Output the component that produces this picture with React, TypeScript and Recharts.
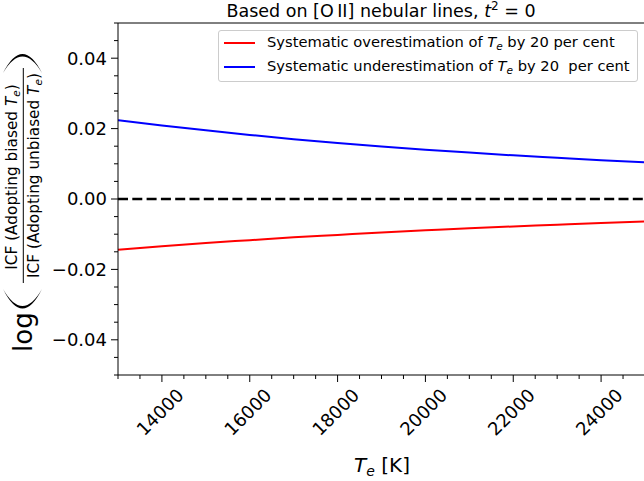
import React from 'react'
import { LineChart, Line, XAxis, YAxis, ReferenceLine } from 'recharts'

// electron temperature grid [K]
const temps = [13000, 14000, 15000, 16000, 17000, 18000, 19000, 20000, 21000, 22000, 23000, 24000, 25000]
// log(ICF biased / ICF unbiased)
const overestimate = [-0.0144, -0.0134, -0.0125, -0.0117, -0.0109, -0.0102, -0.0095, -0.0089, -0.0083, -0.0078, -0.0073, -0.0068, -0.0064]
const underestimate = [0.0224, 0.0209, 0.0195, 0.0182, 0.017, 0.0159, 0.0149, 0.014, 0.0132, 0.0124, 0.0117, 0.011, 0.0104]

const xMajorTicks = [14000, 16000, 18000, 20000, 22000, 24000]
const xTicks = [
  13000, 13500, 14000, 14500, 15000, 15500, 16000, 16500, 17000, 17500, 18000, 18500,
  19000, 19500, 20000, 20500, 21000, 21500, 22000, 22500, 23000, 23500, 24000, 24500, 25000,
]
const yMajorTicks = [-0.04, -0.02, 0, 0.02, 0.04]
const yTicks = [
  -0.05, -0.045, -0.04, -0.035, -0.03, -0.025, -0.02, -0.015, -0.01, -0.005, 0,
  0.005, 0.01, 0.015, 0.02, 0.025, 0.03, 0.035, 0.04, 0.045, 0.05,
]

const seriesKeys = ['over', 'under']
const seriesColors = ['#ff0000', '#0000ff']
const seriesLabels = [
  ['Systematic overestimation of ', ' by 20 per cent'],
  ['Systematic underestimation of ', ' by 20  per cent'],
]

const data = temps.map((t, i) => ({ T: t, over: overestimate[i], under: underestimate[i] }))

const FONT = '"DejaVu Sans", sans-serif'

function fmtY(v: number) {
  if (Math.abs(v) < 1e-9) return '0.00'
  return (v < 0 ? '\u2212' : '') + Math.abs(v).toFixed(2)
}

function XTick({ x, y, payload }: any) {
  const v = payload.value
  const major = xMajorTicks.includes(v)
  const cx = x - 2
  const cy = y + 37
  return (
    <g>
      <line x1={x} x2={x} y1={y} y2={y + (major ? 7 : 4)} stroke="#000" strokeWidth={1} />
      {major && (
        <text
          x={cx}
          y={cy}
          textAnchor="middle"
          dominantBaseline="central"
          transform={`rotate(-45 ${cx} ${cy})`}
          fontSize={18}
          fontFamily={FONT}
          fill="#000"
        >
          {v}
        </text>
      )}
    </g>
  )
}

function YTick({ x, y, payload }: any) {
  const v = payload.value
  const major = yMajorTicks.some(m => Math.abs(m - v) < 1e-9)
  return (
    <g>
      <line x1={x - (major ? 7 : 4)} x2={x} y1={y} y2={y} stroke="#000" strokeWidth={1} />
      {major && (
        <text x={x - 11} y={y} dy="0.36em" textAnchor="end" fontSize={18} fontFamily={FONT} fill="#000">
          {fmtY(v)}
        </text>
      )}
    </g>
  )
}

function XLabel() {
  return (
    <text x={382} y={472} textAnchor="middle" fontSize={20} fontFamily={FONT} fill="#000">
      <tspan fontStyle="italic">T</tspan>
      <tspan fontStyle="italic" fontSize={14} dy={3.5}>e</tspan>
      <tspan dy={-3.5}>{' [K]'}</tspan>
    </text>
  )
}

function YLabel() {
  return (
    <g transform="translate(0,200) rotate(-90)" fontFamily={FONT} fill="#000">
      <text x={-152} y={32} fontSize={26}>log</text>
      <path d="M -89 3 Q -128 22.5 -89 42 Q -123 22.5 -89 3 Z" />
      <text x={23} y={17} fontSize={15.3} textAnchor="middle">
        ICF (Adopting biased <tspan fontStyle="italic">T</tspan>
        <tspan fontStyle="italic" fontSize={10.5} dy={3}>e</tspan>
        <tspan dy={-3}>)</tspan>
      </text>
      <line x1={-83} x2={132} y1={23.3} y2={23.3} stroke="#000" strokeWidth={1} />
      <text x={24.5} y={38.5} fontSize={15.3} textAnchor="middle">
        ICF (Adopting unbiased <tspan fontStyle="italic">T</tspan>
        <tspan fontStyle="italic" fontSize={10.5} dy={3}>e</tspan>
        <tspan dy={-3}>)</tspan>
      </text>
      <path d="M 127 3 Q 165 22.5 127 42 Q 160 22.5 127 3 Z" />
    </g>
  )
}

export default function App() {
  return (
    <div
      style={{
        position: 'absolute',
        left: 0,
        top: 0,
        width: 644,
        height: 481,
        overflow: 'hidden',
        background: '#fff',
        fontFamily: FONT,
      }}
    >
      <LineChart width={646} height={481} data={data} margin={{ top: 23, right: 1, bottom: 0, left: 0 }}>
        <XAxis
          dataKey="T"
          type="number"
          domain={[13000, 25000]}
          ticks={xTicks}
          interval={0}
          allowDataOverflow
          height={106}
          tickSize={0}
          tickMargin={0}
          tickLine={false}
          axisLine={{ stroke: '#000', strokeWidth: 1 }}
          tick={<XTick />}
          label={<XLabel />}
        />
        <YAxis
          type="number"
          domain={[-0.05, 0.05]}
          ticks={yTicks}
          interval={0}
          allowDataOverflow
          width={118}
          tickSize={0}
          tickMargin={0}
          tickLine={false}
          axisLine={{ stroke: '#000', strokeWidth: 1 }}
          tick={<YTick />}
          label={<YLabel />}
        />
        <ReferenceLine y={0.05} stroke="#000" strokeWidth={1} />
        <ReferenceLine x={25000} stroke="#000" strokeWidth={1} />
        <ReferenceLine y={0} stroke="#000" strokeWidth={2.5} strokeDasharray="10 4.3" />
        {seriesKeys.map((k, i) => (
          <Line
            key={k}
            dataKey={k}
            type="monotone"
            stroke={seriesColors[i]}
            strokeWidth={2}
            dot={false}
            isAnimationActive={false}
          />
        ))}
      </LineChart>

      <div
        style={{
          position: 'absolute',
          left: 0,
          top: 0,
          width: 762,
          textAlign: 'center',
          fontSize: 17.5,
          lineHeight: '22px',
          color: '#000',
        }}
      >
        Based on [O{'\u2009'}II] nebular lines, <i>t</i>
        <sup style={{ fontSize: 12, verticalAlign: 7, lineHeight: 0 }}>2</sup> = 0
      </div>

      <div
        style={{
          position: 'absolute',
          left: 218,
          top: 30,
          width: 420,
          height: 52,
          boxSizing: 'border-box',
          border: '1px solid #cccccc',
          borderRadius: 3,
          background: 'rgba(255,255,255,0.8)',
        }}
      >
        {seriesKeys.map((k, i) => (
          <div key={k}>
            <div
              style={{
                position: 'absolute',
                left: 5,
                top: 10.5 + i * 24.4,
                width: 31,
                height: 2,
                background: seriesColors[i],
              }}
            />
            <div
              style={{
                position: 'absolute',
                left: 48,
                top: 1 + i * 24.4,
                lineHeight: '20px',
                fontSize: 14.7,
                whiteSpace: 'pre',
                color: '#000',
              }}
            >
              {seriesLabels[i][0]}
              <i>T</i>
              <sub style={{ fontSize: 10.5, verticalAlign: -3, lineHeight: 0 }}>
                <i>e</i>
              </sub>
              {seriesLabels[i][1]}
            </div>
          </div>
        ))}
      </div>
    </div>
  )
}
